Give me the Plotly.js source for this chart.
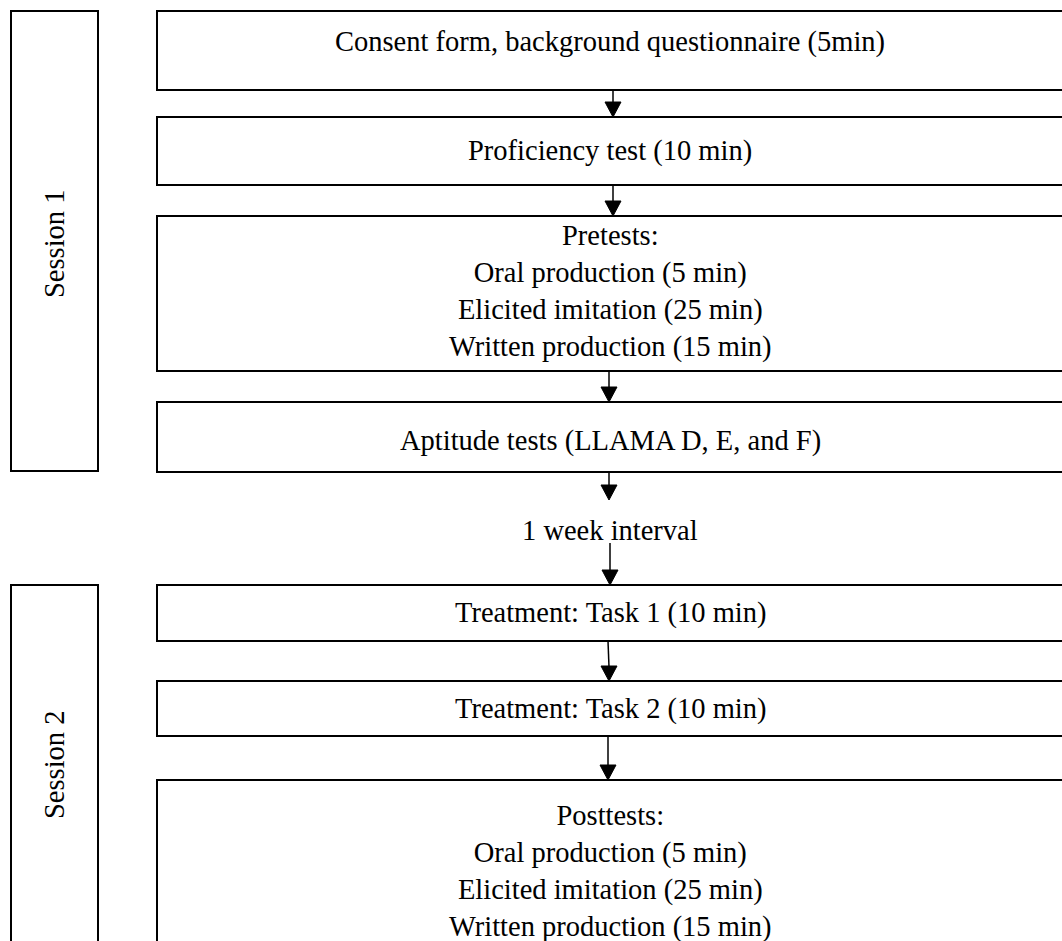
<!DOCTYPE html>
<html>
<head>
<meta charset="utf-8">
<script src="https://cdn.plot.ly/plotly-3.0.1.min.js"></script>
<style>html,body{margin:0;padding:0;background:#fff;}#chart{width:1062px;height:941px;}</style>
</head>
<body>
<div id="chart"></div>
<script>
// Step boxes of the flowchart
var stepTexts = [
  "Consent form, background questionnaire (5min)",
  "Proficiency test (10 min)",
  "Pretests:<br>Oral production (5 min)<br>Elicited imitation (25 min)<br>Written production (15 min)",
  "Aptitude tests (LLAMA D, E, and F)",
  "Treatment: Task 1 (10 min)",
  "Treatment: Task 2 (10 min)",
  "Posttests:<br>Oral production (5 min)<br>Elicited imitation (25 min)<br>Written production (15 min)"
];
var stepTop    = [11, 117, 216, 402, 585, 681, 780];
var stepBottom = [90, 185, 371, 472, 641, 736, 962];
var stepTextY  = [42, 151, 291, 441, 613, 709, 871];

// Session boxes
var sessionLabels = ["Session 1", "Session 2"];
var sessionTop    = [11, 585];
var sessionBottom = [471, 962];
var sessionTextY  = [244, 765];

// Interval label
var intervalLabel = "1 week interval";
var intervalY = 530;

// Arrows
var arrowX0   = [613, 613, 609, 609, 610, 608, 608];
var arrowX1   = [613, 613, 609, 609, 610, 609, 608];
var arrowFrom = [90, 185, 371, 472, 543, 641, 736];
var arrowTo   = [117, 216, 402, 500, 585, 681, 780];

var boxLeft = 157, boxRight = 1068, sesLeft = 11, sesRight = 98;
var fontFam = "'Liberation Serif', 'Times New Roman', serif";
var fs = 28.5;

var shapes = [];
var annotations = [];
var ln = {color: "#000", width: 2};

for (var i = 0; i < stepTexts.length; i++) {
  shapes.push({type: "rect", xref: "x", yref: "y", x0: boxLeft, x1: boxRight, y0: stepTop[i], y1: stepBottom[i], line: ln, fillcolor: "rgba(0,0,0,0)"});
  annotations.push({x: 610, y: stepTextY[i], xref: "x", yref: "y", text: stepTexts[i], showarrow: false, xanchor: "center", yanchor: "middle", align: "center", font: {family: fontFam, size: fs, color: "#000"}});
}
for (var j = 0; j < sessionLabels.length; j++) {
  shapes.push({type: "rect", xref: "x", yref: "y", x0: sesLeft, x1: sesRight, y0: sessionTop[j], y1: sessionBottom[j], line: ln, fillcolor: "rgba(0,0,0,0)"});
  annotations.push({x: 54, y: sessionTextY[j], xref: "x", yref: "y", text: sessionLabels[j], textangle: -90, showarrow: false, xanchor: "center", yanchor: "middle", font: {family: fontFam, size: fs, color: "#000"}});
}
annotations.push({x: 610, y: intervalY, xref: "x", yref: "y", text: intervalLabel, showarrow: false, xanchor: "center", yanchor: "middle", font: {family: fontFam, size: fs, color: "#000"}});

var headH = 15, headW = 8;
for (var k = 0; k < arrowFrom.length; k++) {
  var xa = arrowX0[k], xb = arrowX1[k];
  shapes.push({type: "line", xref: "x", yref: "y", x0: xa, x1: xb, y0: arrowFrom[k], y1: arrowTo[k] - headH + 1, line: {color: "#000", width: 1.5}});
  var t = arrowTo[k];
  shapes.push({type: "path", xref: "x", yref: "y",
    path: "M " + (xb - headW) + " " + (t - headH) + " L " + (xb + headW) + " " + (t - headH) + " L " + xb + " " + t + " Z",
    fillcolor: "#000", line: {color: "#000", width: 1}});
}

var layout = {
  width: 1062, height: 941,
  margin: {l: 0, r: 0, t: 0, b: 0},
  paper_bgcolor: "#fff", plot_bgcolor: "#fff",
  xaxis: {range: [0, 1062], visible: false, fixedrange: true},
  yaxis: {range: [941, 0], visible: false, fixedrange: true},
  showlegend: false,
  shapes: shapes,
  annotations: annotations
};
Plotly.newPlot("chart", [], layout, {staticPlot: true, displayModeBar: false});
</script>
</body>
</html>
